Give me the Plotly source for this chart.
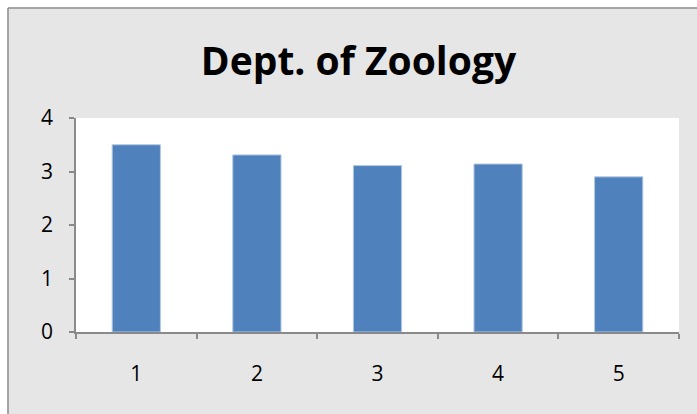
import plotly.graph_objects as go

categories = ["1", "2", "3", "4", "5"]
values = [3.5, 3.31, 3.11, 3.14, 2.9]
y_ticks = [0, 1, 2, 3, 4]
title_text = "Dept. of Zoology"

W, H = 697, 414
ML, MR, MT, MB = 76, 18, 118, 82
pw, ph = W - ML - MR, H - MT - MB


def px_x(p):
    return (p - ML) / pw


def px_y(p):
    return 1 - (p - MT) / ph


fig = go.Figure(
    go.Bar(
        x=categories,
        y=values,
        marker=dict(color="#4f81bd", line=dict(color="#b4c8e2", width=1)),
    )
)

axis_grey = "#8a8a8a"
font = "Open Sans, DejaVu Sans, sans-serif"

fig.update_layout(
    width=W,
    height=H,
    margin=dict(l=ML, r=MR, t=MT, b=MB),
    paper_bgcolor="#e6e6e6",
    plot_bgcolor="#ffffff",
    bargap=0.6,
    showlegend=False,
    title=dict(
        text="<b>" + title_text + "</b>",
        font=dict(family=font, size=39, color="#000000"),
        xref="container",
        yref="container",
        x=358.5 / W,
        y=1 - 61 / H,
        xanchor="center",
        yanchor="middle",
    ),
    xaxis=dict(
        type="category",
        showgrid=False,
        showline=True,
        linecolor=axis_grey,
        linewidth=1.5,
        ticks="outside",
        tickson="boundaries",
        ticklen=5,
        tickcolor=axis_grey,
        tickwidth=1.5,
        tickfont=dict(family=font, size=21, color="#000000"),
        ticklabelstandoff=22,
    ),
    yaxis=dict(
        range=[0, 4],
        tickvals=y_ticks,
        showgrid=False,
        zeroline=False,
        showline=True,
        linecolor=axis_grey,
        linewidth=1.5,
        ticks="outside",
        ticklen=5,
        tickcolor=axis_grey,
        tickwidth=1.5,
        tickfont=dict(family=font, size=21, color="#000000"),
        ticklabelstandoff=12,
    ),
    shapes=[
        # white strips outside the chart frame
        dict(type="rect", xref="paper", yref="paper",
             x0=px_x(-5), x1=px_x(W + 5), y0=px_y(-5), y1=px_y(7.5),
             fillcolor="#ffffff", line=dict(width=0), layer="above"),
        dict(type="rect", xref="paper", yref="paper",
             x0=px_x(-5), x1=px_x(7.5), y0=px_y(-5), y1=px_y(H + 5),
             fillcolor="#ffffff", line=dict(width=0), layer="above"),
        # chart frame edges
        dict(type="line", xref="paper", yref="paper",
             x0=px_x(8), x1=px_x(W + 5), y0=px_y(8), y1=px_y(8),
             line=dict(color="#8c8c8c", width=1.5), layer="above"),
        dict(type="line", xref="paper", yref="paper",
             x0=px_x(8), x1=px_x(8), y0=px_y(8), y1=px_y(H + 5),
             line=dict(color="#8c8c8c", width=1.5), layer="above"),
    ],
)

fig.write_html("out.html")
